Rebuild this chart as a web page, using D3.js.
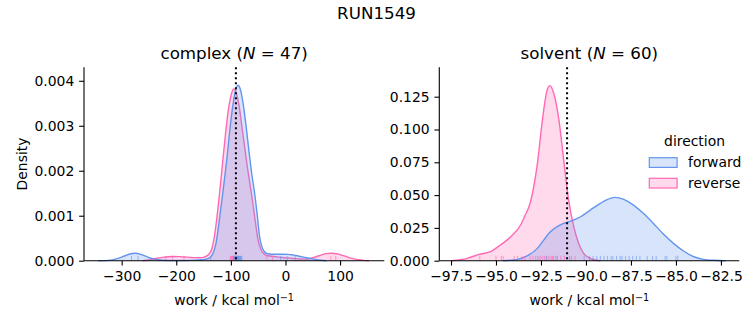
<!DOCTYPE html>
<html><head><meta charset="utf-8">
<script src="https://cdn.jsdelivr.net/npm/d3@7"></script>
<style>
body{margin:0;background:#fff}
text{font-family:"DejaVu Sans",sans-serif;fill:#000}
</style>
</head><body>
<svg id="c" width="753" height="325"></svg>
<script>
// ---------- data ----------
const figureTitle = "RUN1549";
const directions = ["forward", "reverse"];
const colors = {forward: "#6495ED", reverse: "#FF69B4"};

// complex: KDE curves (work in kcal/mol, density ×10^-3)
const complexForwardWork = [-343,-335,-325,-315,-305,-295,-285,-276,-265,-255,-245,-235,-225,-215,-205,-195,-185,-175,-165,-155,-147,-142,-137,-132,-127,-122,-117,-112,-107,-102,-97,-92,-87,-82,-77,-72,-67,-62,-57,-52,-47,-42,-37,-32,-25,-15,-5,5,15,25,35,45,55,65,75];
const complexForwardDensityE3 = [0,0.002,0.008,0.025,0.058,0.105,0.149,0.165,0.142,0.095,0.050,0.022,0.010,0.006,0.005,0.005,0.006,0.008,0.012,0.02,0.03,0.045,0.085,0.18,0.40,0.82,1.30,1.78,2.30,2.90,3.40,3.76,3.90,3.78,3.45,2.98,2.45,1.95,1.55,1.05,0.50,0.27,0.18,0.155,0.145,0.142,0.142,0.14,0.125,0.10,0.075,0.05,0.027,0.01,0];
const complexReverseWork = [-262,-255,-245,-235,-225,-215,-205,-195,-185,-175,-165,-155,-150,-145,-140,-135,-130,-125,-120,-115,-110,-105,-100,-95,-90,-85,-80,-75,-70,-65,-60,-55,-50,-45,-40,-35,-25,-15,-5,5,15,25,35,45,55,65,75,84,94,104,114,124,134,144,153];
const complexReverseDensityE3 = [0,0.010,0.030,0.055,0.075,0.088,0.092,0.090,0.083,0.075,0.068,0.068,0.075,0.10,0.15,0.26,0.55,1.02,1.58,2.20,2.80,3.32,3.66,3.82,3.72,3.45,3.00,2.55,2.10,1.70,1.30,0.85,0.45,0.25,0.16,0.12,0.10,0.085,0.07,0.06,0.05,0.038,0.035,0.05,0.085,0.125,0.158,0.165,0.155,0.12,0.08,0.045,0.02,0.007,0];
const complexForwardRug = [-282,-270,-137,-95,-93.5,-92,-91,-90,-89,-88.5,-88,-87,-86.5,-86,-85,-84,-83,-82,-81,-80,-9,3,18];
const complexReverseRug = [-219,-207,-186,-101,-100,-99,-98,-97,-96,-95.5,-95,-94,-93,-92,-91,-90,-89,-34,-24,83,92];
const complexMarker = -90.8;

// solvent: KDE curves (density)
const solventForwardWork = [-94.6,-93.8,-93.27,-92.7,-92.35,-91.98,-91.6,-91.24,-90.78,-90.3,-89.76,-89.2,-88.65,-88.37,-87.9,-87.36,-86.8,-86.25,-85.7,-85.14,-84.58,-84.0,-83.47,-82.9,-82.25];
const solventForwardDensity = [0,0.001,0.0036,0.0094,0.0157,0.022,0.026,0.0284,0.0305,0.0335,0.0386,0.0437,0.0475,0.0483,0.0467,0.0424,0.036,0.0284,0.0203,0.0132,0.0074,0.003,0.001,0.0003,0];
const solventReverseWork = [-97.45,-96.6,-95.95,-95.3,-94.75,-94.2,-93.6,-93.4,-93.1,-92.7,-92.44,-92.31,-92.16,-92.0,-91.8,-91.5,-91.24,-90.96,-90.68,-90.4,-90.13,-89.76,-89.4,-89.2];
const solventReverseDensity = [0,0.0018,0.0048,0.0069,0.012,0.018,0.028,0.034,0.044,0.074,0.105,0.1186,0.130,0.1334,0.128,0.107,0.077,0.046,0.026,0.013,0.0056,0.0018,0.0003,0];
const solventForwardRug = [-92.2,-91.6,-90.9,-90.1,-89.8,-89.6,-89.4,-89.2,-89.0,-88.8,-88.6,-88.5,-88.3,-88.1,-88.0,-87.8,-87.6,-87.4,-87.2,-87.0,-86.6,-86.3,-86.1,-85.6,-85.5,-85.0,-84.9];
const solventReverseRug = [-95.9,-95.0,-94.7,-94.6,-94.0,-93.8,-93.55,-93.4,-93.1,-92.95,-92.8,-92.7,-92.6,-92.5,-92.4,-92.3,-92.2,-92.1,-92.0,-91.9,-91.85,-91.8,-91.7,-91.6,-91.4,-91.2,-90.8,-90.6];
const solventMarker = -91.05;

const complexXTicks = [-300,-200,-100,0,100];
const complexYTicks = [0,0.001,0.002,0.003,0.004];
const solventXTicks = [-97.5,-95,-92.5,-90,-87.5,-85,-82.5];
const solventYTicks = [0,0.025,0.05,0.075,0.1,0.125];

// ---------- drawing ----------
const svg = d3.select("#c");
svg.append("rect").attr("width",753).attr("height",325).attr("fill","#fff");

svg.append("text").attr("x",376.5).attr("y",19).attr("text-anchor","middle")
  .style("font-size","16.7px").text(figureTitle);

const axTop = 67.3, axBottom = 260.7;
const tickLen = 4.86, tickPad = 4.86;

function panel(o){
  const x = d3.scaleLinear().domain(o.xDomain).range([o.left, o.right]);
  const y = d3.scaleLinear().domain(o.yDomain).range([axBottom, axTop]);
  const g = svg.append("g");
  const area = d3.area().x(d=>x(d.x)).y0(y(0)).y1(d=>y(d.y)).curve(d3.curveMonotoneX);
  const line = d3.line().x(d=>x(d.x)).y(d=>y(d.y)).curve(d3.curveMonotoneX);
  o.series.forEach(s=>{
    const pts = s.work.map((w,i)=>({x:w, y:s.dens[i]*s.mult}));
    g.append("path").datum(pts).attr("d",area).attr("fill",colors[s.dir]).attr("fill-opacity",0.25);
    g.append("path").datum(pts).attr("d",line).attr("fill","none").attr("stroke",colors[s.dir]).attr("stroke-width",1.4);
  });
  o.series.forEach(s=>{
    g.selectAll(null).data(s.rug).enter().append("line")
      .attr("x1",d=>x(d)).attr("x2",d=>x(d)).attr("y1",axBottom).attr("y2",axBottom-4.8)
      .attr("stroke",colors[s.dir]).attr("stroke-width",1).attr("stroke-opacity",0.6);
  });
  g.append("line").attr("x1",x(o.marker)).attr("x2",x(o.marker)).attr("y1",axTop).attr("y2",axBottom)
    .attr("stroke","#000").attr("stroke-width",2).attr("stroke-dasharray","2,3");

  const xa = g.append("g").attr("transform",`translate(0,${axBottom})`)
    .call(d3.axisBottom(x).tickValues(o.xTicks).tickFormat(d3.format(o.xFmt)).tickSize(tickLen).tickPadding(tickPad).tickSizeOuter(0));
  const ya = g.append("g").attr("transform",`translate(${o.left},0)`)
    .call(d3.axisLeft(y).tickValues(o.yTicks).tickFormat(d3.format(".3f")).tickSize(tickLen).tickPadding(tickPad).tickSizeOuter(0));
  [xa,ya].forEach(a=>{
    a.select(".domain").attr("stroke","#000").attr("stroke-width",1.1);
    a.selectAll(".tick line").attr("stroke","#000").attr("stroke-width",1.1);
    a.selectAll(".tick text").style("font-size","13.9px").style("font-family","'DejaVu Sans',sans-serif").attr("fill","#000");
  });
  xa.selectAll(".tick text").attr("dy","0.73em");
  xa.select(".domain").attr("d",`M${o.left},0H${o.right}`);
  ya.select(".domain").attr("d",`M0,${axBottom}V${axTop}`);

  const cx = (o.left+o.right)/2;
  const t = g.append("text").attr("x",cx).attr("y",59).attr("text-anchor","middle").style("font-size","16.7px");
  t.append("tspan").text(o.name+" (");
  t.append("tspan").style("font-style","italic").text("N");
  t.append("tspan").text(" = "+o.n+")");

  const xl = g.append("text").attr("x",cx).attr("y",305).attr("text-anchor","middle").style("font-size","13.9px");
  xl.append("tspan").text("work / kcal mol");
  xl.append("tspan").attr("dy","-0.45em").style("font-size","9.7px").text("\u22121");
  return {x,y};
}

panel({
  name:"complex", n:47, left:84, right:384.3,
  xDomain:[-369,181], yDomain:[0,0.0043],
  xTicks:complexXTicks, yTicks:complexYTicks, xFmt:"d",
  marker:complexMarker,
  series:[
    {dir:"reverse", work:complexReverseWork, dens:complexReverseDensityE3, mult:1e-3, rug:complexReverseRug},
    {dir:"forward", work:complexForwardWork, dens:complexForwardDensityE3, mult:1e-3, rug:complexForwardRug}
  ]
});
panel({
  name:"solvent", n:60, left:439.3, right:739.3,
  xDomain:[-98.15,-81.48], yDomain:[0,0.1474],
  xTicks:solventXTicks, yTicks:solventYTicks, xFmt:".1f",
  marker:solventMarker,
  series:[
    {dir:"reverse", work:solventReverseWork, dens:solventReverseDensity, mult:1, rug:solventReverseRug},
    {dir:"forward", work:solventForwardWork, dens:solventForwardDensity, mult:1, rug:solventForwardRug}
  ]
});

svg.append("text").attr("transform","translate(27,164) rotate(-90)").attr("x",0).attr("y",0)
  .attr("text-anchor","middle").style("font-size","13.9px").text("Density");

// legend
const lg = svg.append("g");
lg.append("text").attr("x",694.5).attr("y",146).attr("text-anchor","middle").style("font-size","13.9px").text("direction");
directions.forEach((d,i)=>{
  const yy = 157.7 + i*20.6;
  lg.append("rect").attr("x",649.3).attr("y",yy).attr("width",27.8).attr("height",9.7)
    .attr("fill",colors[d]).attr("fill-opacity",0.25).attr("stroke",colors[d]).attr("stroke-width",1.2);
  lg.append("text").attr("x",688).attr("y",yy+9.3).style("font-size","13.9px").text(d);
});
</script>
</body></html>
